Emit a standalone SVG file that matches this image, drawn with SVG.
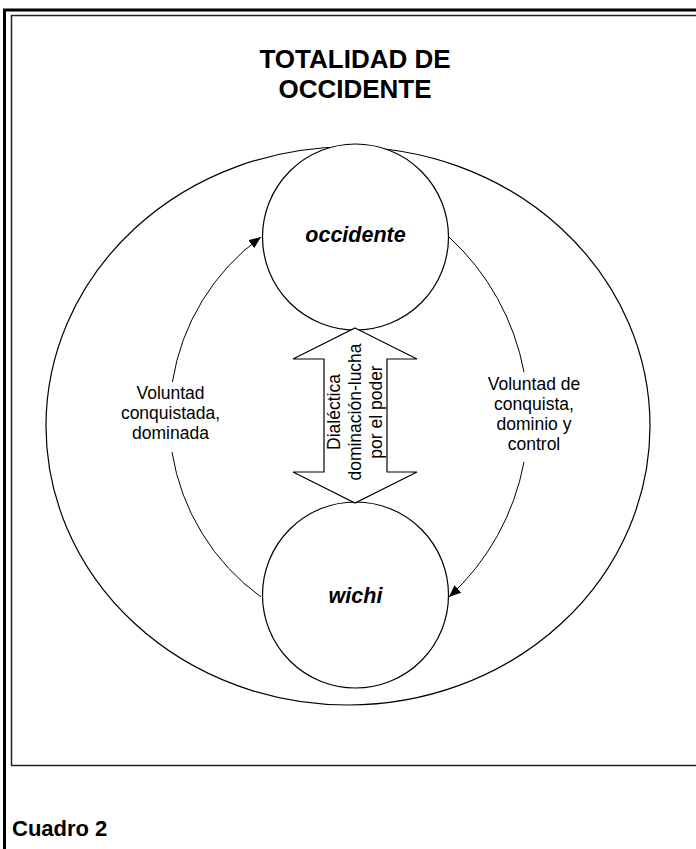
<svg xmlns="http://www.w3.org/2000/svg" width="696" height="849" viewBox="0 0 696 849">
  <defs>
    <marker id="arrow" viewBox="0 0 12 10" refX="12" refY="5" markerWidth="12" markerHeight="10" markerUnits="userSpaceOnUse" orient="auto">
      <path d="M0,0 L12,5 L0,10 Z" fill="#000"/>
    </marker>
  </defs>
  <style>
    .frame { fill: none; stroke: #000; stroke-width: 3; }
    .box { fill: none; stroke: #222; stroke-width: 1.5; }
    .shape { fill: #fff; stroke: #000; stroke-width: 1.2; }
    .link { fill: none; stroke: #000; stroke-width: 1; }
    .title { font-family: "Liberation Sans", Arial, sans-serif; font-weight: bold; font-size: 26px; text-anchor: middle; }
    .node { font-family: "Liberation Sans", Arial, sans-serif; font-weight: bold; font-style: italic; font-size: 21.5px; text-anchor: middle; }
    .label { font-family: "Liberation Sans", Arial, sans-serif; font-size: 17.5px; text-anchor: middle; }
    .caption { font-family: "Liberation Sans", Arial, sans-serif; font-weight: bold; font-size: 22px; }
  </style>

  <rect width="696" height="849" fill="#fff"/>

  <!-- page frame and figure box -->
  <path class="frame" d="M4.5,849 V10 H696"/>
  <path class="box" d="M700,15.5 H11.5 V765.5 H700"/>

  <text class="title" x="355" y="68">TOTALIDAD DE</text>
  <text class="title" x="355" y="98">OCCIDENTE</text>

  <!-- whole -->
  <g id="totalidad">
    <ellipse class="shape" cx="348" cy="426" rx="302" ry="279"/>
  </g>

  <!-- connectors -->
  <g id="connectors">
    <path class="link" d="M261,597 A222.4,222.4 0 0 1 172,452"/>
    <path class="link" d="M172.4,382 A222.4,222.4 0 0 1 261,237" marker-end="url(#arrow)"/>
    <path class="link" d="M449,237 A244.2,244.2 0 0 1 524,372"/>
    <path class="link" d="M524,462 A244.2,244.2 0 0 1 449,597" marker-end="url(#arrow)"/>
  </g>

  <g id="occidente">
    <circle class="shape" cx="355.5" cy="237" r="93"/>
    <text class="node" x="355.5" y="242">occidente</text>
  </g>

  <g id="wichi">
    <circle class="shape" cx="355.5" cy="595" r="93"/>
    <text class="node" x="355.5" y="603">wichi</text>
  </g>

  <!-- double arrow between the two -->
  <g id="dialectica">
    <polygon class="shape" points="355,328 417,359 387,359 387,472 417,472 355,503 293,472 324,472 324,359 293,359"/>
    <g transform="translate(355,412) rotate(-90)">
      <text class="label" x="0" y="-15">Dialéctica</text>
      <text class="label" x="0" y="6">dominación-lucha</text>
      <text class="label" x="0" y="27">por el poder</text>
    </g>
  </g>

  <g id="label-left">
    <text class="label" x="170.5" y="399">Voluntad</text>
    <text class="label" x="170.5" y="419">conquistada,</text>
    <text class="label" x="170.5" y="439">dominada</text>
  </g>

  <g id="label-right">
    <text class="label" x="534" y="390">Voluntad de</text>
    <text class="label" x="534" y="410">conquista,</text>
    <text class="label" x="534" y="430">dominio y</text>
    <text class="label" x="534" y="450">control</text>
  </g>

  <text class="caption" x="12" y="836">Cuadro 2</text>
</svg>
